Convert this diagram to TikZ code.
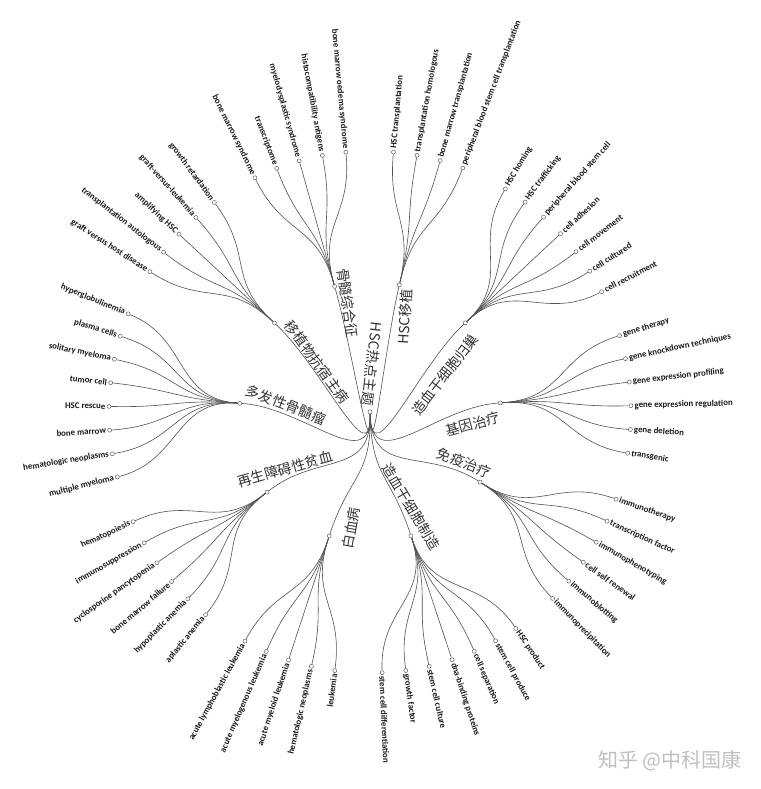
\documentclass[tikz,border=0pt]{standalone}
\usepackage{fontspec}
\setmainfont{Carlito}
\newfontfamily\cjk{Noto Sans CJK SC}
\begin{document}
\begin{tikzpicture}[x=1pt,y=1pt,
  edge/.style={draw=black!68,line width=0.6pt},
  dot/.style={circle,draw=black!62,fill=white,line width=0.5pt,inner sep=0pt,minimum size=4pt},
  lt/.style={font=\fontsize{8.8}{9}\selectfont\bfseries,text=black!90,inner sep=0pt},
  cl/.style={font=\cjk\fontsize{14}{14}\selectfont,text=black!80,inner sep=0pt},
  wm/.style={font=\cjk\fontsize{20}{20}\selectfont,text=black!25,inner sep=0pt}]
\useasboundingbox[fill=white] (-370,-377) rectangle (390,412);
\node[dot] (root) at (0,0) {};
% category nodes
\foreach \i/\a in {1/105.73,2/137.04,3/176.17,4/217.9,5/251.8,6/288.3,7/327.5,8/364.0,9/403.1,10/437.0}{
  \node[dot] (g\i) at (\a:130.5) {};
  \coordinate (gc\i) at (\a:195.75);
  \draw[edge] (root) .. controls (271.4:65.25) and (\a:65.25) .. (g\i);
}
% leaves
\foreach \k/\g/\t in {
0/1/bone marrow oedema syndrome,
1/1/histocompatibility antigens,
2/1/myelodysplastic syndrome,
3/1/transcriptome,
4/1/bone marrow syndrome,
6/2/growth retardation,
7/2/graft-versus-leukemia,
8/2/amplifying HSC,
9/2/transplantation autologous,
10/2/graft versus host disease,
12/3/hyperglobulinemia,
13/3/plasma cells,
14/3/solitary myeloma,
15/3/tumor cell,
16/3/HSC rescue,
17/3/bone marrow,
18/3/hematologic neoplasms,
19/3/multiple myeloma,
21/4/hematopoiesis,
22/4/immunosuppression,
23/4/cyclosporine pancytopenia,
24/4/bone marrow failure,
25/4/hypoplastic anemia,
26/4/aplastic anemia,
28/5/acute lymphoblastic leukemia,
29/5/acute myelogenous leukemia,
30/5/acute myeloid leukemia,
31/5/hematologic neoplasms,
32/5/leukemia,
34/6/stem cell differentiation,
35/6/growth factor,
36/6/stem cell culture,
37/6/dna-binding proteins,
38/6/cell separation,
39/6/stem cell produce,
40/6/HSC product,
42/7/immunoprecipitation,
43/7/immunoblotting,
44/7/cell self renewal,
45/7/immunophenotyping,
46/7/transcription factor,
47/7/immunotherapy,
49/8/transgenic,
50/8/gene deletion,
51/8/gene expression regulation,
52/8/gene expression profiling,
53/8/gene knockdown techniques,
54/8/gene therapy,
56/9/cell recruitment,
57/9/cell cultured,
58/9/cell movement,
59/9/cell adhesion,
60/9/peripheral blood stem cell,
61/9/HSC trafficking,
62/9/HSC homing,
64/10/peripheral blood stem cell transplantation,
65/10/bone marrow transplantation,
66/10/transplantation homologous,
67/10/HSC transplantation}{
  \pgfmathsetmacro\th{95.3+5.217*\k}
  \node[dot] (l\k) at (\th:261) {};
  \draw[edge] (g\g) .. controls (gc\g) and (\th:195.75) .. (l\k);
  \ifnum\k<34
    \node[lt,anchor=east,rotate=\th-180] (t\k) at (\th:264.5) {\t};
  \else
    \node[lt,anchor=west,rotate=\th] (t\k) at (\th:264.5) {\t};
  \fi
}
% category labels
\node[cl,rotate=-96] (rl) at (2,48) {HSC热点主题};
\node[cl,rotate=-82] (cl1) at (-22,109) {骨髓综合征};
\node[cl,rotate=87] (cl10) at (35,95) {HSC移植};
\node[cl,rotate=52] (cl9) at (75,37) {造血干细胞归巢};
\node[cl,rotate=15] (cl8) at (103,-12) {基因治疗};
\node[cl,rotate=-21] (cl7) at (94,-51) {免疫治疗};
\node[cl,rotate=-59] (cl6) at (41,-95) {造血干细胞制造};
\node[cl,rotate=80] (cl5) at (-19,-116) {白血病};
\node[cl,rotate=16] (cl4) at (-85,-57) {再生障碍性贫血};
\node[cl,rotate=-21] (cl3) at (-84,7) {多发性骨髓瘤};
\node[cl,rotate=-54] (cl2) at (-53,50) {移植物抗宿主病};
% watermark
\node[wm] (wmk) at (300,-349) {知乎 @中科国康};
\end{tikzpicture}
\end{document}
